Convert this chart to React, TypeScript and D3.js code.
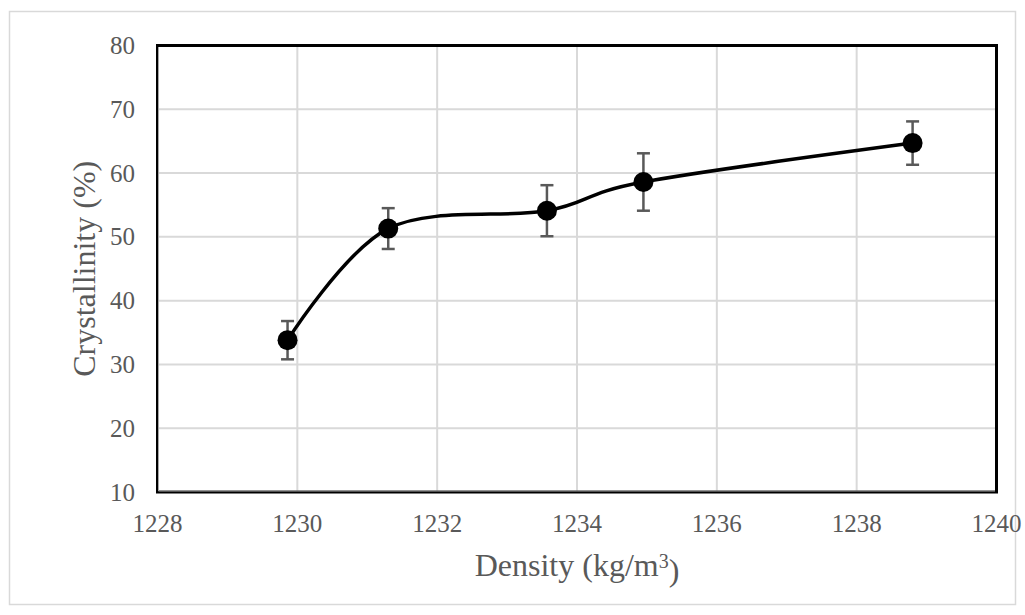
import React, { useEffect, useRef } from 'react';
import * as d3 from 'd3';

// Data
const density = [1229.86, 1231.3, 1233.57, 1234.95, 1238.8];
const crystallinity = [33.8, 51.3, 54.1, 58.6, 64.7];
const errors = [3.0, 3.2, 4.0, 4.5, 3.4];
const xTicks = [1228, 1230, 1232, 1234, 1236, 1238, 1240];
const yTicks = [10, 20, 30, 40, 50, 60, 70, 80];

const App = () => {
  const svgRef = useRef<SVGSVGElement>(null);

  useEffect(() => {
    const svg = d3.select(svgRef.current);
    svg.selectAll('*').remove();

    const width = 1025;
    const height = 615;
    const margin = { top: 45.5, right: 28.5, bottom: 123, left: 157.5 };
    const font = '"Liberation Serif", "Times New Roman", serif';
    const textColor = '#595959';

    // chart area border
    svg.append('rect')
      .attr('x', 9.5).attr('y', 11.5)
      .attr('width', 1006).attr('height', 593)
      .attr('fill', '#fff')
      .attr('stroke', '#d9d9d9')
      .attr('stroke-width', 1.5);

    const x = d3.scaleLinear()
      .domain([1228, 1240])
      .range([margin.left, width - margin.right]);

    const y = d3.scaleLinear()
      .domain([10, 80])
      .range([height - margin.bottom, margin.top]);

    // Gridlines
    svg.append('g')
      .selectAll('line')
      .data(xTicks.slice(1, -1))
      .join('line')
      .attr('x1', d => x(d)).attr('x2', d => x(d))
      .attr('y1', y(80)).attr('y2', y(10))
      .attr('stroke', '#d9d9d9')
      .attr('stroke-width', 2);

    svg.append('g')
      .selectAll('line')
      .data(yTicks.slice(1, -1))
      .join('line')
      .attr('x1', x(1228)).attr('x2', x(1240))
      .attr('y1', d => y(d)).attr('y2', d => y(d))
      .attr('stroke', '#d9d9d9')
      .attr('stroke-width', 2);

    // Plot border
    svg.append('rect')
      .attr('x', x(1228)).attr('y', y(80))
      .attr('width', x(1240) - x(1228))
      .attr('height', y(10) - y(80))
      .attr('fill', 'none')
      .attr('stroke', '#000')
      .attr('stroke-width', 3);

    // Gray axis lines inside the border (left and bottom)
    svg.append('line')
      .attr('x1', x(1228) + 1).attr('x2', x(1228) + 1)
      .attr('y1', y(80) + 1.5).attr('y2', y(10) - 1)
      .attr('stroke', '#a6a6a6').attr('stroke-width', 1);
    svg.append('line')
      .attr('x1', x(1228) + 1).attr('x2', x(1240) - 1.5)
      .attr('y1', y(10) - 1).attr('y2', y(10) - 1)
      .attr('stroke', '#a6a6a6').attr('stroke-width', 1);

    // Tick labels
    svg.append('g')
      .selectAll('text')
      .data(xTicks)
      .join('text')
      .attr('x', d => x(d))
      .attr('y', 532)
      .attr('text-anchor', 'middle')
      .attr('fill', textColor)
      .style('font-family', font)
      .style('font-size', '25px')
      .text(d => d);

    svg.append('g')
      .selectAll('text')
      .data(yTicks)
      .join('text')
      .attr('x', 135)
      .attr('y', d => y(d))
      .attr('dy', '0.34em')
      .attr('text-anchor', 'end')
      .attr('fill', textColor)
      .style('font-family', font)
      .style('font-size', '25px')
      .text(d => d);

    // Axis titles
    const xt = svg.append('text')
      .attr('x', (x(1228) + x(1240)) / 2)
      .attr('y', 576)
      .attr('text-anchor', 'middle')
      .attr('fill', textColor)
      .style('font-family', font)
      .style('font-size', '32px');
    xt.append('tspan').text('Density (kg/m');
    xt.append('tspan').attr('dy', '-0.4em').style('font-size', '20px').text('3');
    xt.append('tspan').attr('dy', '0.4em').text(')');

    svg.append('text')
      .attr('transform', `translate(95,${(y(10) + y(80)) / 2}) rotate(-90)`)
      .attr('text-anchor', 'middle')
      .attr('fill', textColor)
      .style('font-family', font)
      .style('font-size', '32px')
      .text('Crystallinity (%)');

    const pts = density.map((d, i) => ({ x: d, y: crystallinity[i], e: errors[i] }));

    // Error bars
    const eb = svg.append('g')
      .attr('stroke', '#595959')
      .attr('stroke-width', 2.5);
    eb.selectAll('line.v')
      .data(pts)
      .join('line')
      .attr('class', 'v')
      .attr('x1', d => x(d.x)).attr('x2', d => x(d.x))
      .attr('y1', d => y(d.y + d.e)).attr('y2', d => y(d.y - d.e));
    eb.selectAll('line.t')
      .data(pts)
      .join('line')
      .attr('class', 't')
      .attr('x1', d => x(d.x) - 6.5).attr('x2', d => x(d.x) + 6.5)
      .attr('y1', d => y(d.y + d.e)).attr('y2', d => y(d.y + d.e));
    eb.selectAll('line.b')
      .data(pts)
      .join('line')
      .attr('class', 'b')
      .attr('x1', d => x(d.x) - 6.5).attr('x2', d => x(d.x) + 6.5)
      .attr('y1', d => y(d.y - d.e)).attr('y2', d => y(d.y - d.e));

    // Smoothed line
    const line = d3.line<{ x: number; y: number }>()
      .x(d => x(d.x))
      .y(d => y(d.y))
      .curve(d3.curveCardinal.tension(0));

    svg.append('path')
      .datum(pts)
      .attr('d', line)
      .attr('fill', 'none')
      .attr('stroke', '#000')
      .attr('stroke-width', 3.5);

    // Markers
    svg.append('g')
      .selectAll('circle')
      .data(pts)
      .join('circle')
      .attr('cx', d => x(d.x))
      .attr('cy', d => y(d.y))
      .attr('r', 10)
      .attr('fill', '#000');
  }, []);

  return (
    <svg
      ref={svgRef}
      width="1025"
      height="615"
      style={{ position: 'absolute', left: 0, top: 0 }}
    ></svg>
  );
};

export default App;
